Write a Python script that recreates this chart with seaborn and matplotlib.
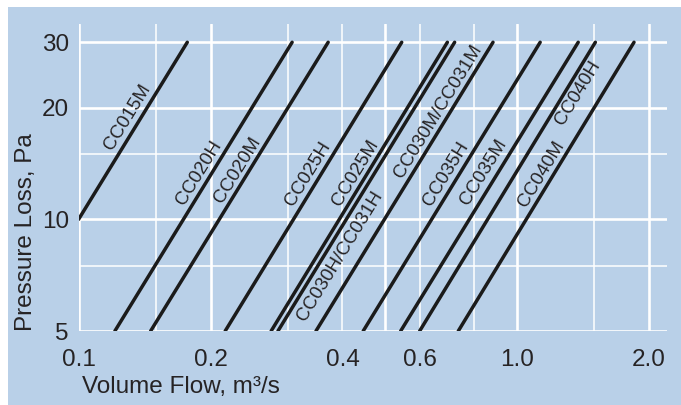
import numpy as np
import pandas as pd
import matplotlib
matplotlib.use("Agg")
import matplotlib.pyplot as plt
from matplotlib.patches import Rectangle
import seaborn as sns

# curve data: each model is a straight line on log-log axes
models = ["CC015M", "CC020H", "CC020M", "CC025H", "CC025M", "CC030H/CC031H",
          "CC030M/CC031M", "CC035H", "CC035M", "CC040H", "CC040M"]
flow_start = [0.100, 0.121, 0.146, 0.216, 0.275, 0.285, 0.348, 0.446, 0.543, 0.600, 0.735]
loss_start = [10, 5, 5, 5, 5, 5, 5, 5, 5, 5, 5]
flow_end = [0.177, 0.307, 0.371, 0.546, 0.694, 0.721, 0.882, 1.13, 1.38, 1.51, 1.85]
loss_end = [30, 30, 30, 30, 30, 30, 30, 30, 30, 30, 30]

# where each curve name sits (centre of the text)
label_flow = [0.129, 0.188, 0.231, 0.334, 0.429, 0.395, 0.660, 0.689, 0.841, 1.380, 1.139]
label_loss = [18.9, 13.3, 13.6, 13.25, 13.3, 7.96, 19.5, 13.25, 13.4, 21.9, 13.25]

x_ticks = [0.1, 0.2, 0.4, 0.6, 1.0, 2.0]
x_tick_labels = ["0.1", "0.2", "0.4", "0.6", "1.0", "2.0"]
y_ticks = [5, 10, 20, 30]
y_tick_labels = ["5", "10", "20", "30"]
x_grid_thick = [0.1, 0.2, 0.5, 1.0, 2.0]
x_grid_thin = [0.15, 0.3, 0.4, 0.6, 0.8, 1.5]
y_grid_thick = [5, 10, 20, 30]
y_grid_thin = [7.5, 15]

BG = "#b9d0e8"
INK = "#262324"

sns.set_style("white", {"axes.facecolor": BG, "figure.facecolor": BG})
plt.rcParams["font.family"] = ["Liberation Sans", "DejaVu Sans"]

df = pd.DataFrame({
    "model": models + models,
    "flow": flow_start + flow_end,
    "loss": loss_start + loss_end,
})

fig = plt.figure(figsize=(6.81, 4.05), dpi=100)
ax = fig.add_axes([78.6 / 681, 74 / 405, 588.4 / 681, 307 / 405])

# white strips at the top and left edge of the scanned page
fig.patches.append(Rectangle((0, 1 - 7 / 405), 1, 7 / 405, transform=fig.transFigure,
                             facecolor="white", edgecolor="none", zorder=0))
fig.patches.append(Rectangle((0, 0), 8 / 681, 1, transform=fig.transFigure,
                             facecolor="white", edgecolor="none", zorder=0))

sns.lineplot(data=df, x="flow", y="loss", hue="model", hue_order=models,
             palette=["#1b1b1b"] * len(models), linewidth=2.5, legend=False,
             estimator=None, sort=False, ax=ax, zorder=3)

ax.set_xscale("log")
ax.set_yscale("log")
ax.set_xlim(0.1, 2.2)
ax.set_ylim(5, 33.6)

for v in x_grid_thick:
    ax.axvline(v, color="white", lw=1.9, zorder=1)
for v in x_grid_thin:
    ax.axvline(v, color="white", lw=1.1, zorder=1)
for v in y_grid_thick:
    ax.axhline(v, color="white", lw=1.9, zorder=1)
for v in y_grid_thin:
    ax.axhline(v, color="white", lw=1.1, zorder=1)

ax.set_xticks(x_ticks)
ax.set_xticklabels(x_tick_labels)
ax.set_yticks(y_ticks)
ax.set_yticklabels(y_tick_labels)
ax.xaxis.set_minor_locator(matplotlib.ticker.NullLocator())
ax.yaxis.set_minor_locator(matplotlib.ticker.NullLocator())
ax.tick_params(length=0, labelsize=17.5, colors=INK)
ax.tick_params(axis="x", pad=13)
ax.tick_params(axis="y", pad=7)
sns.despine(ax=ax, left=True, bottom=True)

ax.set_xlabel("Volume Flow, m³/s", fontsize=17.5, color=INK, loc="left")
ax.set_ylabel("Pressure Loss, Pa", fontsize=17.5, color=INK, loc="bottom")
ax.xaxis.set_label_coords(0.006, -0.145)
ax.yaxis.set_label_coords(-0.07, 0.0)

# curve names, rotated along their line
for i, name in enumerate(models):
    p0 = ax.transData.transform((flow_start[i], loss_start[i]))
    p1 = ax.transData.transform((flow_end[i], loss_end[i]))
    ang = np.degrees(np.arctan2(p1[1] - p0[1], p1[0] - p0[0]))
    ax.text(label_flow[i], label_loss[i], name, rotation=ang, rotation_mode="anchor",
            ha="center", va="center", fontsize=13.5, color=INK, zorder=4)

fig.savefig("out.png", dpi=100, facecolor=BG)
